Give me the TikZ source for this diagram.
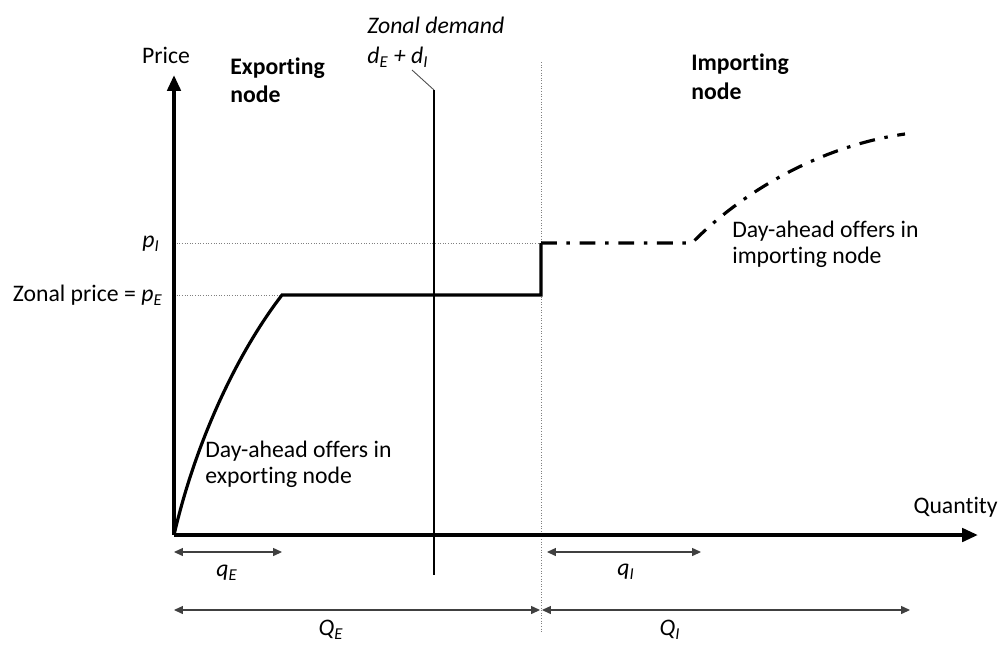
\documentclass[tikz,border=0pt]{standalone}
\usepackage{fontspec}
\setmainfont{Carlito}[Ligatures=NoCommon]
\usetikzlibrary{arrows.meta}
\newcommand{\pq}[2]{\textit{#1}\textsubscript{\textit{#2}}}

\begin{document}
\begin{tikzpicture}[x=0.02cm, y=-0.02cm,
        font=\fontsize{13.5}{14.8}\selectfont,
        axis/.style={line width=2.2pt, -{Triangle[length=9pt, width=7.5pt]}},
        offer/.style={line width=1.8pt},
        guide/.style={densely dotted, gray, line width=0.5pt},
        dimline/.style={line width=0.6pt, black!75, {Triangle[length=5pt, width=4.5pt]}-{Triangle[length=5pt, width=4.5pt]}},
        txt/.style={inner sep=0pt, align=left, anchor=north west}]
        \useasboundingbox (0,0) rectangle (1000,646);
        % points of the offer curves
        \coordinate (O) at (174,535);
        \coordinate (yI) at (174,243);
        \coordinate (yE) at (174,295);
        \coordinate (knee) at (282,295);
        \coordinate (jumpB) at (541,295);
        \coordinate (jumpT) at (541,243);
        \coordinate (flatI) at (692,243);
        \coordinate (endI) at (905,134);
        \coordinate (splitT) at (541,62);
        \coordinate (splitB) at (541,632);
        % guides
        \draw[guide] (yI) -- (jumpT);
        \draw[guide] (yE) -- (knee);
        \draw[guide] (splitT) -- (splitB);
        % zonal demand
        \node[txt, font=\fontsize{13.5}{17}\selectfont\itshape] (demand) at (367,17) {Zonal demand\\\pq{d}{E} + \pq{d}{I}};
        \coordinate (leadA) at (412,70);
        \coordinate (demT) at (434,90);
        \coordinate (demB) at (434,575);
        \draw[line width=0.5pt, black!70] (leadA) -- (demT);
        \draw[line width=0.7pt] (demT) -- (demB);
        % offer curves
        \draw[offer] (O) .. controls (196,440) and (238,352) .. (knee) -- (jumpB) -- (jumpT);
        \draw[offer, dash pattern=on 9pt off 5.5pt on 2pt off 5.5pt] (jumpT) -- (flatI) .. controls (742,192) and (820,146) .. (endI);
        % axes
        \draw[axis] (O) -- (174,75);
        \draw[axis] (O) -- (978,535);
        \node (price) at (166,55) {Price};
        \node[anchor=base east, inner sep=0pt] (qty) at (998,513) {Quantity};
        \node[anchor=east, inner sep=0pt] (pIlab) at (160,244) {\pq{p}{I}};
        \node[anchor=east, inner sep=0pt] (pElab) at (163,295) {Zonal price = \pq{p}{E}};
        % node labels
        \node[txt, font=\fontsize{13.5}{15.5}\selectfont\bfseries] (expnode) at (230,58) {Exporting\\node};
        \node[txt, font=\fontsize{13.5}{16}\selectfont\bfseries] (impnode) at (691,54) {Importing\\node};
        \node[txt] (expoffer) at (205,441) {Day-ahead offers in\\exporting node};
        \node[txt] (impoffer) at (732,221) {Day-ahead offers in\\importing node};
        % quantities
        \coordinate (qEa) at (174,552);
        \coordinate (qEb) at (282,552);
        \coordinate (qIa) at (547,552);
        \coordinate (qIb) at (701,552);
        \coordinate (QEa) at (174,610);
        \coordinate (QEb) at (540,610);
        \coordinate (QIa) at (542,610);
        \coordinate (QIb) at (910,610);
        \draw[dimline] (qEa) -- (qEb);
        \draw[dimline] (qIa) -- (qIb);
        \draw[dimline] (QEa) -- (QEb);
        \draw[dimline] (QIa) -- (QIb);
        \node (qE) at (227,573) {\pq{q}{E}};
        \node (qI) at (626,572) {\pq{q}{I}};
        \node (QE) at (331,630) {\pq{Q}{E}};
        \node (QI) at (670,630) {\pq{Q}{I}};
    \end{tikzpicture}
\end{document}
